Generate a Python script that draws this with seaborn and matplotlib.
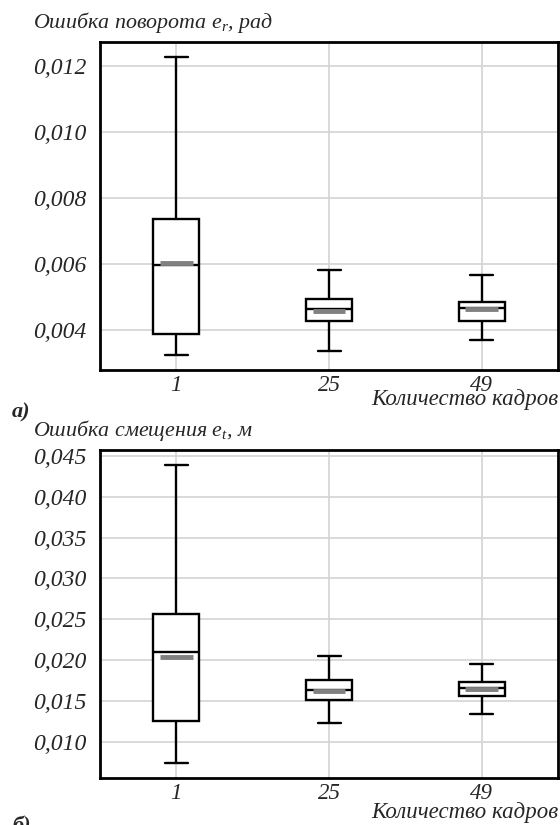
import numpy as np
import pandas as pd
import matplotlib
matplotlib.use("Agg")
import matplotlib.pyplot as plt
from matplotlib.ticker import FuncFormatter
import seaborn as sns

# категории (количество кадров)
kadry = ['1', '25', '49']

# ошибка поворота, рад: нижний ус, Q1, медиана, Q3, верхний ус, среднее
rot_low = [0.00324, 0.00337, 0.00371]
rot_q1 = [0.00390, 0.00428, 0.00428]
rot_med = [0.00597, 0.00463, 0.00469]
rot_q3 = [0.00736, 0.00496, 0.00486]
rot_high = [0.01228, 0.00582, 0.00568]
rot_mean = [0.00604, 0.00459, 0.00465]

# ошибка смещения, м
tr_low = [0.0074, 0.01237, 0.01338]
tr_q1 = [0.0126, 0.0152, 0.01563]
tr_med = [0.02105, 0.01638, 0.01665]
tr_q3 = [0.02568, 0.0176, 0.01738]
tr_high = [0.0439, 0.02053, 0.01958]
tr_mean = [0.0204, 0.01626, 0.0165]

rot_ticks = [0.004, 0.006, 0.008, 0.010, 0.012]
tr_ticks = [0.010, 0.015, 0.020, 0.025, 0.030, 0.035, 0.040, 0.045]


def long_table(low, q1, med, q3, high):
    # пять точек на категорию -> квартили совпадают с заданными
    rows = []
    for i, k in enumerate(kadry):
        for v in (low[i], q1[i], med[i], q3[i], high[i]):
            rows.append({'kadry': k, 'val': v})
    return pd.DataFrame(rows)


sns.set_style('whitegrid')
plt.rcParams['font.family'] = ['Liberation Serif', 'DejaVu Serif']
plt.rcParams['font.style'] = 'italic'
plt.rcParams['mathtext.fontset'] = 'custom'
plt.rcParams['mathtext.it'] = 'Liberation Serif:italic'
plt.rcParams['mathtext.rm'] = 'Liberation Serif:italic'

fig = plt.figure(figsize=(5.6, 8.25), dpi=100)
ax1 = fig.add_axes([0.1786, 0.5521, 0.818, 0.397])
ax2 = fig.add_axes([0.1786, 0.0573, 0.818, 0.3972])


def draw(ax, df, means, ticks, ylim, title, letter, letter_y, xlab_y):
    sns.boxplot(data=df, x='kadry', y='val', order=kadry, ax=ax,
                color='white', linecolor='black', linewidth=1.7,
                width=0.3, whis=np.inf, showfliers=False)
    xs = np.arange(len(kadry))
    ax.hlines(means, xs - 0.107, xs + 0.107, color='#808080', lw=3.5, zorder=5)
    ax.set_xlim(-0.5, 2.5)
    ax.set_ylim(*ylim)
    ax.set_yticks(ticks)
    ax.yaxis.set_major_formatter(FuncFormatter(lambda v, p: f'{v:.3f}'.replace('.', ',')))
    ax.grid(True, axis='both', color='#d3d3d3', lw=1.2)
    ax.set_axisbelow(True)
    for s in ax.spines.values():
        s.set_color('black')
        s.set_linewidth(2)
    ax.tick_params(axis='y', length=0, labelsize=17, pad=10)
    ax.tick_params(axis='x', length=0, labelsize=16.5, pad=4)
    ax.set_xlabel('')
    ax.set_ylabel('')
    ax.text(-0.147, 1.022, title, transform=ax.transAxes, fontsize=15.8,
            ha='left', va='bottom')
    ax.text(1.0, xlab_y, 'Количество кадров', transform=ax.transAxes,
            fontsize=16.5, ha='right', va='center')
    ax.text(-0.192, letter_y, letter, transform=ax.transAxes, fontsize=16,
            fontweight='bold', ha='left', va='center')


draw(ax1, long_table(rot_low, rot_q1, rot_med, rot_q3, rot_high), rot_mean,
     rot_ticks, (0.00281, 0.01274), 'Ошибка поворота $e_r$, рад', 'а)',
     -0.13, -0.093)
draw(ax2, long_table(tr_low, tr_q1, tr_med, tr_q3, tr_high), tr_mean,
     tr_ticks, (0.00564, 0.0457), 'Ошибка смещения $e_t$, м', 'б)',
     -0.148, -0.105)

fig.savefig('out.png', dpi=100)
